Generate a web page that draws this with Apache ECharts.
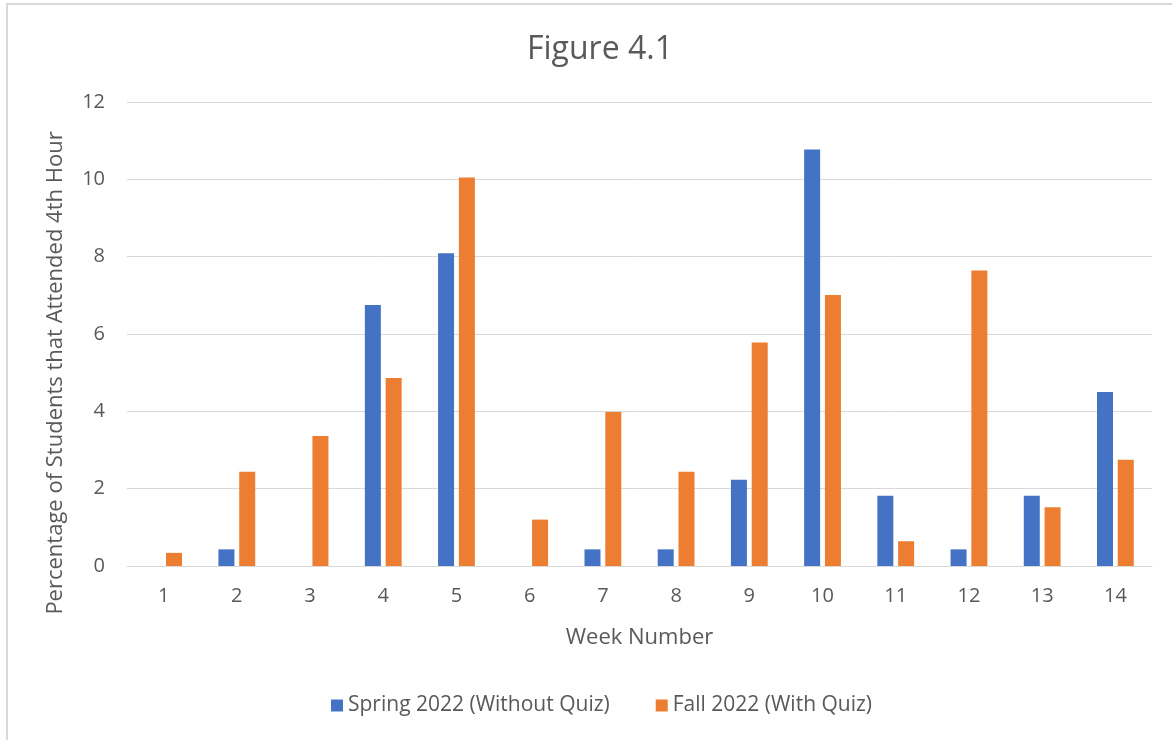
<!DOCTYPE html>
<html>
<head>
<meta charset="utf-8">
<title>Figure 4.1</title>
<script src="https://cdn.jsdelivr.net/npm/echarts@6/dist/echarts.min.js"></script>
<style>
    html, body { margin: 0; padding: 0; background: #fff; }
    #chartDiv { width: 1172px; height: 740px; }
</style>
</head>
<body>
<div id="chartDiv"></div>
<script>
// 数据
var weeks = ['1', '2', '3', '4', '5', '6', '7', '8', '9', '10', '11', '12', '13', '14'];
var springData = [0, 0.43, 0, 6.75, 8.09, 0, 0.43, 0.43, 2.23, 10.77, 1.82, 0.43, 1.82, 4.5];
var fallData = [0.34, 2.44, 3.36, 4.86, 10.05, 1.2, 3.98, 2.44, 5.78, 7.01, 0.64, 7.64, 1.52, 2.75];
var seriesNames = ['Spring 2022 (Without Quiz)', 'Fall 2022 (With Quiz)'];

var textColor = '#595959';
var fontName = 'Open Sans';

var option = {
    backgroundColor: '#fff',
    color: ['#4472C4', '#ED7D31'],
    title: {
        text: 'Figure 4.1',
        left: 595,
        top: 29,
        textAlign: 'center',
        textStyle: {
            fontFamily: fontName,
            fontSize: 32,
            fontWeight: 'normal',
            color: textColor
        }
    },
    graphic: [
        {
            type: 'rect',
            shape: { x: 7, y: 4, width: 1200, height: 800 },
            style: { fill: 'none', stroke: '#D9D9D9', lineWidth: 2 },
            silent: true
        }
    ],
    legend: {
        top: 690,
        left: 326,
        icon: 'rect',
        itemWidth: 12,
        itemHeight: 12,
        itemGap: 46,
        textStyle: {
            fontFamily: fontName,
            fontSize: 21,
            color: textColor
        },
        data: seriesNames
    },
    grid: {
        left: 127,
        right: 20,
        top: 102,
        bottom: 174,
        containLabel: false
    },
    xAxis: {
        type: 'category',
        data: weeks,
        name: 'Week Number',
        nameLocation: 'middle',
        nameGap: 61,
        nameTextStyle: { fontFamily: fontName, fontSize: 22, color: textColor },
        axisLine: { lineStyle: { color: '#D9D9D9', width: 1 } },
        axisTick: { show: false },
        axisLabel: {
            margin: 20,
            fontFamily: fontName,
            fontSize: 20,
            color: textColor
        }
    },
    yAxis: {
        type: 'value',
        min: 0,
        max: 12,
        interval: 2,
        name: 'Percentage of Students that Attended 4th Hour',
        nameLocation: 'middle',
        nameGap: 60,
        nameTextStyle: {
            fontFamily: fontName,
            fontSize: 22,
            color: textColor,
            padding: [0, 78, 0, 0]
        },
        axisLine: { show: false },
        axisTick: { show: false },
        splitLine: { lineStyle: { color: '#D9D9D9', width: 1 } },
        axisLabel: {
            margin: 22,
            fontFamily: fontName,
            fontSize: 20,
            color: textColor
        }
    },
    series: [
        {
            name: seriesNames[0],
            type: 'bar',
            data: springData,
            barWidth: 16,
            barGap: '30%'
        },
        {
            name: seriesNames[1],
            type: 'bar',
            data: fallData,
            barWidth: 16,
            barGap: '30%'
        }
    ]
};

var myChart = echarts.init(document.getElementById('chartDiv'));
myChart.setOption(option);
</script>
</body>
</html>
